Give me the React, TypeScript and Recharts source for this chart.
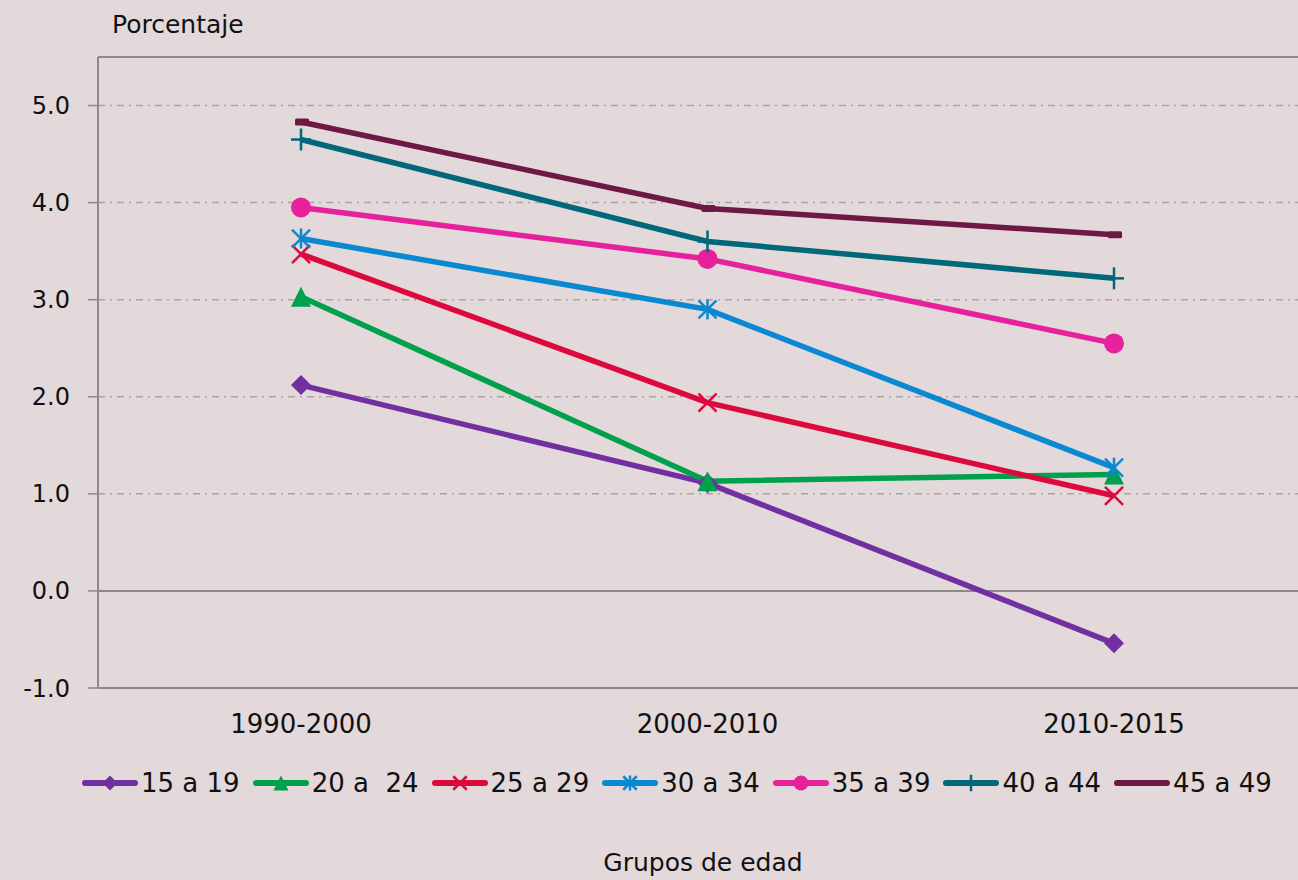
import React from 'react';
import { LineChart, Line, XAxis, YAxis, CartesianGrid, ReferenceLine } from 'recharts';

const periods = ['1990-2000', '2000-2010', '2010-2015'];
const seriesNames = ['15 a 19', '20 a  24', '25 a 29', '30 a 34', '35 a 39', '40 a 44', '45 a 49'];
const s15 = [2.12, 1.11, -0.54];
const s20 = [3.03, 1.13, 1.2];
const s25 = [3.47, 1.94, 0.98];
const s30 = [3.63, 2.9, 1.27];
const s35 = [3.95, 3.42, 2.55];
const s40 = [4.65, 3.6, 3.22];
const s45 = [4.83, 3.94, 3.67];
const yTicks = [-1, 0, 1, 2, 3, 4, 5];
const colors = ['#7030a0', '#00a04c', '#dc0a3c', '#0a88d2', '#e6219b', '#006878', '#6e1845'];
const markers = ['diamond', 'triangle', 'x', 'star', 'circle', 'plus', 'dash'];
const seriesValues = [s15, s20, s25, s30, s35, s40, s45];
const keys = ['a', 'b', 'c', 'd', 'e', 'f', 'g'];

const data = periods.map((p, i) => {
  const row: any = { period: p };
  keys.forEach((k, j) => {
    row[k] = seriesValues[j][i];
  });
  return row;
});

const FONT = '"DejaVu Sans", sans-serif';
const AXIS = '#8a8a8a';

function Marker({ kind, color, cx, cy, s = 1 }: any) {
  const k = (v: number) => v * s;
  switch (kind) {
    case 'diamond':
      return (
        <polygon
          points={`${cx},${cy - k(10)} ${cx + k(10)},${cy} ${cx},${cy + k(10)} ${cx - k(10)},${cy}`}
          fill={color}
        />
      );
    case 'triangle':
      return (
        <polygon
          points={`${cx},${cy - k(10)} ${cx + k(10)},${cy + k(10)} ${cx - k(10)},${cy + k(10)}`}
          fill={color}
        />
      );
    case 'x':
      return (
        <g stroke={color} strokeWidth={2.5}>
          <line x1={cx - k(9)} y1={cy - k(9)} x2={cx + k(9)} y2={cy + k(9)} />
          <line x1={cx - k(9)} y1={cy + k(9)} x2={cx + k(9)} y2={cy - k(9)} />
        </g>
      );
    case 'star':
      return (
        <g stroke={color} strokeWidth={2.5}>
          <line x1={cx} y1={cy - k(10)} x2={cx} y2={cy + k(10)} />
          <line x1={cx - k(9)} y1={cy - k(9)} x2={cx + k(9)} y2={cy + k(9)} />
          <line x1={cx - k(9)} y1={cy + k(9)} x2={cx + k(9)} y2={cy - k(9)} />
        </g>
      );
    case 'circle':
      return <circle cx={cx} cy={cy} r={k(10)} fill={color} />;
    case 'plus':
      return (
        <g stroke={color} strokeWidth={2.5}>
          <line x1={cx - k(10)} y1={cy} x2={cx + k(10)} y2={cy} />
          <line x1={cx} y1={cy - k(11)} x2={cx} y2={cy + k(11)} />
        </g>
      );
    case 'dash':
      return <rect x={cx - k(6)} y={cy - k(3.5)} width={k(14)} height={k(7)} rx={1.5} fill={color} />;
    default:
      return null;
  }
}

const makeDot = (kind: string, color: string) => (p: any) => {
  const { cx, cy, index } = p;
  if (cx == null || cy == null) return <g key={`${kind}-${index}`} />;
  return (
    <g key={`${kind}-${index}`}>
      <Marker kind={kind} color={color} cx={cx} cy={cy} />
    </g>
  );
};

function LegendRow() {
  return (
    <div
      style={{
        position: 'absolute',
        top: 768,
        left: 82,
        display: 'flex',
        alignItems: 'center',
        fontFamily: FONT,
        fontSize: 26,
        color: '#111',
        whiteSpace: 'pre',
      }}
    >
      {seriesNames.map((name, i) => (
        <div key={name} style={{ display: 'flex', alignItems: 'center', marginRight: 13 }}>
          <svg width={56} height={28} style={{ display: 'block' }}>
            <line x1={3} y1={14} x2={53} y2={14} stroke={colors[i]} strokeWidth={6} strokeLinecap="round" />
            <Marker kind={markers[i]} color={colors[i]} cx={i === 6 ? 24 : 28} cy={14} s={0.75} />
          </svg>
          <span style={{ marginLeft: 3 }}>{name}</span>
        </div>
      ))}
    </div>
  );
}

export default function App() {
  return (
    <div
      style={{
        position: 'absolute',
        top: 0,
        left: 0,
        width: 1298,
        height: 880,
        overflow: 'hidden',
        background: '#e3d8da',
      }}
    >
      <div
        style={{
          position: 'absolute',
          left: 112,
          top: 10,
          fontFamily: FONT,
          fontSize: 25,
          color: '#111',
        }}
      >
        Porcentaje
      </div>
      <LineChart width={1317} height={880} data={data} margin={{ top: 57, right: 0, left: 0, bottom: 162 }}>
        <CartesianGrid vertical={false} stroke="#a9a5a6" strokeWidth={1.5} strokeDasharray="7 5 2 5" />
        <XAxis
          dataKey="period"
          height={30}
          padding={{ left: 203, right: 203 }}
          axisLine={{ stroke: AXIS, strokeWidth: 2 }}
          tickLine={false}
          tickSize={0}
          tickMargin={27}
          tick={{ fill: '#111', fontSize: 26, fontFamily: FONT }}
        />
        <YAxis
          width={98}
          domain={[-1, 5.5]}
          ticks={yTicks}
          allowDataOverflow
          tickFormatter={(v: number) => v.toFixed(1)}
          axisLine={{ stroke: AXIS, strokeWidth: 2 }}
          tickLine={{ stroke: AXIS, strokeWidth: 1.5 }}
          tickSize={10}
          tickMargin={18}
          tick={{ fill: '#111', fontSize: 24, fontFamily: FONT }}
        />
        <ReferenceLine y={0} stroke={AXIS} strokeWidth={2} />
        <ReferenceLine y={5.5} stroke={AXIS} strokeWidth={2} />
        {keys.map((k, i) => (
          <Line
            key={k}
            type="linear"
            dataKey={k}
            name={seriesNames[i]}
            stroke={colors[i]}
            strokeWidth={5.5}
            dot={makeDot(markers[i], colors[i])}
            activeDot={false}
            isAnimationActive={false}
          />
        ))}
      </LineChart>
      <LegendRow />
      <div
        style={{
          position: 'absolute',
          left: 0,
          width: 1406,
          top: 848,
          textAlign: 'center',
          fontFamily: FONT,
          fontSize: 25,
          color: '#111',
        }}
      >
        Grupos de edad
      </div>
    </div>
  );
}
